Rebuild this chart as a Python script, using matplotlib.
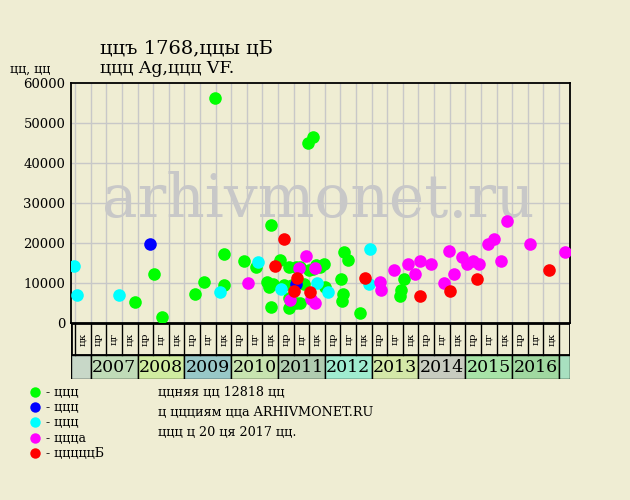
import matplotlib
matplotlib.use("Agg")

import matplotlib.pyplot as plt
from matplotlib.patches import Rectangle

# ==========================================
# Data
# ==========================================

green_x = [2007.95, 2008.36, 2008.53, 2009.23, 2009.43, 2009.66, 2009.85, 2009.85,
           2010.28, 2010.52, 2010.77, 2010.81, 2010.90, 2010.84, 2010.86, 2011.04,
           2011.12, 2011.23, 2011.30, 2011.38, 2011.47, 2011.23, 2011.38, 2011.47,
           2011.24, 2011.56, 2011.65, 2011.74, 2011.66, 2011.74, 2011.82, 2011.90,
           2011.98, 2012.01, 2012.35, 2012.41, 2012.50, 2012.39, 2012.37, 2012.76,
           2013.69, 2013.63, 2013.61]
green_y = [5250, 12250, 1400, 7150, 10250, 56200, 9400, 17250,
           15400, 14100, 10250, 9100, 9750, 3900, 24400, 15650,
           9500, 14000, 9500, 13900, 13900, 6150, 5100, 5100,
           3850, 9650, 44900, 46400, 13250, 13400, 14500, 14100,
           14750, 8900, 10900, 17650, 15650, 7150, 5400, 2400,
           10900, 8300, 6750]

blue_x = [2008.27, 2011.39]
blue_y = [19700, 9750]

cyan_x = [2006.65, 2006.71, 2007.61, 2009.77, 2010.58, 2011.07, 2011.84, 2012.07,
          2012.97, 2012.95]
cyan_y = [14250, 6900, 6900, 7750, 15200, 8400, 10000, 7750, 18500, 9750]

magenta_x = [2010.36, 2011.25, 2011.45, 2011.60, 2011.79, 2011.71, 2011.78, 2013.18,
             2013.20, 2013.48, 2013.77, 2013.93, 2014.04, 2014.27, 2014.55, 2014.66,
             2014.76, 2014.93, 2015.04, 2015.17, 2015.29, 2015.49, 2015.62, 2015.77,
             2015.89, 2016.38, 2017.13]
magenta_y = [10000, 5750, 13800, 16700, 13650, 5900, 4900, 10150,
             8250, 13150, 14750, 12150, 15400, 14750, 10000, 18000,
             12150, 16500, 14750, 15400, 14750, 19650, 20900, 15400,
             25400, 19750, 17650]

red_x = [2010.94, 2011.13, 2011.41, 2011.35, 2011.69, 2012.86, 2014.04, 2014.67,
         2015.25, 2016.79]
red_y = [14250, 20900, 11150, 7900, 7750, 11150, 6650, 8000, 10900, 13150]

years = list(range(2006, 2018))
year_colors = ["#c8d8c8", "#c0dcb8", "#d0eca0", "#98c8c8", "#c8e4b0", "#b0ccb0",
               "#a0ecd0", "#d4e8a8", "#c8ccc0", "#a8e4a8", "#a0d8a0", "#a8e0c0"]
col_labels = ["цр", "цг", "цк"]

legend_labels = ["ццц", "ццц", "ццц", "ццца", "цццццБ"]
legend_colors = ["#00ff00", "#0000ff", "#00ffff", "#ff00ff", "#ff0000"]

info_lines = ["ццняя цц 12818 цц",
              "ц ццциям цца ARHIVMONET.RU",
              "ццц ц 20 ця 2017 цц."]

# ==========================================
# Layout
# ==========================================

W, H = 630, 500
BG = "#efedd3"
SERIF = "DejaVu Serif"
X0, X1 = 2006.58, 2017.235

plt.rcParams["font.family"] = SERIF

fig = plt.figure(figsize=(W / 100, H / 100), dpi=100, facecolor=BG)


def px_axes(left, top, right, bottom):
    return fig.add_axes([left / W, 1 - bottom / H, (right - left) / W, (bottom - top) / H])


# --- main plot ---
ax = px_axes(71, 83, 570, 323)
ax.set_facecolor(BG)
ax.set_xlim(X0, X1)
ax.set_ylim(0, 60000)

for k in range(32):
    ax.axvline(2006 + 2 / 3 + k / 3, color="#c8c8c8", lw=1, zorder=0)
for v in range(10000, 60000, 10000):
    ax.axhline(v, color="#c8c8c8", lw=1, zorder=0)

ax.text(0.495, 0.44, "arhivmonet.ru", transform=ax.transAxes, ha="center",
        va="baseline", fontsize=43, color="#c8c8c8", zorder=1)

for xs, ys, c in [(green_x, green_y, "#00ff00"), (blue_x, blue_y, "#0000ff"),
                  (cyan_x, cyan_y, "#00ffff"), (magenta_x, magenta_y, "#ff00ff"),
                  (red_x, red_y, "#ff0000")]:
    ax.scatter(xs, ys, s=82, color=c, linewidths=0, zorder=3)

ax.set_xticks([])
ax.set_yticks(range(0, 60001, 10000))
ax.tick_params(axis="y", length=0, pad=4, labelsize=9.5)
for s in ax.spines.values():
    s.set_linewidth(1.3)

# --- column labels and year cells ---
lab = px_axes(71, 323, 570, 379)
lab.set_xlim(X0, X1)
lab.set_ylim(56, 0)
lab.axis("off")
lab.add_patch(Rectangle((X0, 0), X1 - X0, 56, fill=False, lw=2.0, ec="black"))
for k in range(32):
    lab.plot([2006 + 2 / 3 + k / 3] * 2, [0, 32], color="black", lw=1)
for k in range(31):
    xc = 2006 + 2 / 3 + k / 3 + 1 / 6
    lab.text(xc, 16, col_labels[(k + 2) % 3], rotation=90, ha="center",
             va="center", fontsize=7.5)
lab.plot([X0, X1], [32, 32], color="black", lw=1.3)
for yr, c in zip(years, year_colors):
    a, b = max(yr, X0), min(yr + 1, X1)
    lab.add_patch(Rectangle((a, 32), b - a, 24, fc=c, ec="black", lw=1))
    if X0 < yr and yr + 1 < X1:
        lab.text(yr + 0.5, 45, str(yr), ha="center", va="center", fontsize=12.5)

# --- overlay for texts and legend ---
ov = fig.add_axes([0, 0, 1, 1], facecolor="none")
ov.set_xlim(0, W)
ov.set_ylim(H, 0)
ov.axis("off")

ov.text(100, 53, "ццъ 1768,ццы цБ", fontsize=14, va="baseline")
ov.text(100, 73, "ццц Ag,ццц VF.", fontsize=12.5, va="baseline")
ov.text(10, 73, "цц, цц", fontsize=9, va="baseline")

for i, (lbl, c) in enumerate(zip(legend_labels, legend_colors)):
    yy = 392 + i * 15.2
    ov.plot([35], [yy], "o", ms=7.5, color=c, mew=0)
    ov.text(46, yy + 4, "- " + lbl, fontsize=9, va="baseline")

for i, line in enumerate(info_lines):
    ov.text(158, 396 + i * 19.8, line, fontsize=9.2, va="baseline")

fig.savefig("out.png", dpi=100, facecolor=BG)
